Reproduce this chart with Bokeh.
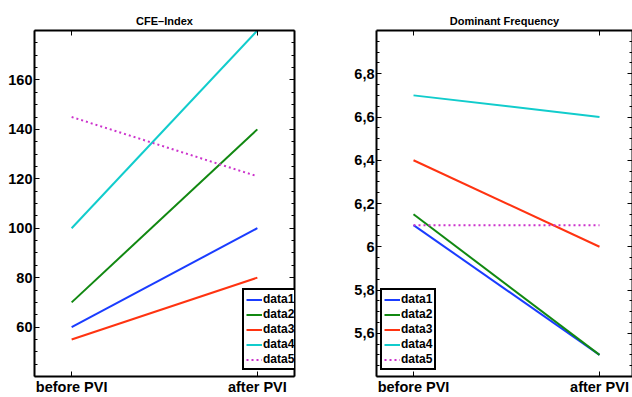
from bokeh.plotting import figure
from bokeh.layouts import row
from bokeh.models import (Range1d, FixedTicker, LinearAxis, Legend, LegendItem,
                          CustomJSTickFormatter)
from bokeh.embed import file_html
from bokeh.resources import INLINE

categories = ["before PVI", "after PVI"]
positions = [1, 2]
series_names = ["data1", "data2", "data3", "data4", "data5"]
colors = ["#1a3cff", "#118811", "#ff3311", "#11cccc", "#cc33cc"]
dashes = ["solid", "solid", "solid", "solid", "2 3"]

cfe_values = [
    [60, 100],
    [70, 140],
    [55, 80],
    [100, 180],
    [145, 121],
]
cfe_ticks = [60, 80, 100, 120, 140, 160]

freq_values = [
    [6.1, 5.5],
    [6.15, 5.5],
    [6.4, 6.0],
    [6.7, 6.6],
    [6.1, 6.1],
]
freq_ticks = [5.6, 5.8, 6.0, 6.2, 6.4, 6.6, 6.8]

FONT = "Liberation Sans"
H = 397
TOP = 30
BOTTOM = 20


def style_axis(ax, labels=True, fsize="14.5px", standoff=2):
    ax.axis_line_color = "black"
    ax.axis_line_width = 2
    ax.major_tick_in = 5
    ax.major_tick_out = 0
    ax.minor_tick_in = 3
    ax.minor_tick_out = 0
    ax.major_tick_line_color = "black"
    ax.minor_tick_line_color = "black"
    ax.axis_label_standoff = 0
    ax.major_label_text_font = FONT
    ax.major_label_text_font_style = "bold"
    if labels:
        ax.major_label_text_font_size = fsize
        ax.major_label_text_color = "black"
        ax.major_label_standoff = standoff
    else:
        ax.major_label_text_font_size = "0px"
        ax.major_label_text_color = None
        ax.major_label_standoff = 0


def make_fig(title, values, yticks, y0, y1, width, border_left, border_right,
             xstart, xend, legend_loc, comma=False):
    p = figure(width=width, height=H, output_backend="svg", toolbar_location=None,
               x_range=Range1d(xstart, xend), y_range=Range1d(y0, y1),
               min_border_left=border_left, min_border_right=border_right,
               min_border_top=TOP, min_border_bottom=BOTTOM, title=title)
    p.title.text_font = FONT
    p.title.text_font_size = "11px"
    p.title.text_font_style = "bold"
    p.title.text_color = "black"
    p.title.align = "center"
    p.title.standoff = 8
    p.title.offset = 0
    p.outline_line_color = None
    p.grid.visible = False
    p.background_fill_color = "white"
    p.border_fill_color = "white"

    p.xaxis.ticker = FixedTicker(ticks=positions)
    p.xaxis.major_label_overrides = {pos: lab for pos, lab in zip(positions, categories)}
    style_axis(p.xaxis[0], standoff=2)
    step = (yticks[1] - yticks[0]) / 4
    n = int(round((y1 - y0) / step))
    p.yaxis.ticker = FixedTicker(ticks=yticks, minor_ticks=[y0 + i * step for i in range(n + 1)])
    style_axis(p.yaxis[0], standoff=2)
    if comma:
        p.yaxis.formatter = CustomJSTickFormatter(
            code="var s = (Math.round(tick*10)/10).toString(); return s.replace('.', ',');")

    top = LinearAxis(ticker=FixedTicker(ticks=positions))
    style_axis(top, labels=False)
    p.add_layout(top, "above")
    right = LinearAxis(ticker=p.yaxis[0].ticker)
    style_axis(right, labels=False)
    p.add_layout(right, "right")

    items = []
    for name, vals, c, d in zip(series_names, values, colors, dashes):
        r = p.line(positions, vals, line_color=c, line_width=2, line_dash=d)
        items.append(LegendItem(label=name, renderers=[r]))
    leg = Legend(items=items, location=legend_loc)
    leg.border_line_color = "black"
    leg.border_line_alpha = 1
    leg.border_line_width = 2
    leg.background_fill_color = "white"
    leg.background_fill_alpha = 1
    leg.label_text_font = FONT
    leg.label_text_font_style = "bold"
    leg.label_text_font_size = "12px"
    leg.label_text_color = "black"
    leg.glyph_width = 16
    leg.glyph_height = 13
    leg.label_height = 13
    leg.label_standoff = 1
    leg.spacing = 1
    leg.padding = 2
    leg.margin = 0
    leg.click_policy = "none"
    p.add_layout(leg)
    return p


p1 = make_fig("CFE\u2013Index", cfe_values, cfe_ticks, 40, 180, 330, 34, 36, 0.8, 2.2,
              (208, 6))
p2 = make_fig("Dominant Frequency", freq_values, freq_ticks, 5.4, 7.0, 302, 46, 0,
              1 - 37 / 186, 1 + 219 / 186, (4, 6), comma=True)

p = row(p1, p2, spacing=0)
open("out.html", "w").write(file_html(p, INLINE))
